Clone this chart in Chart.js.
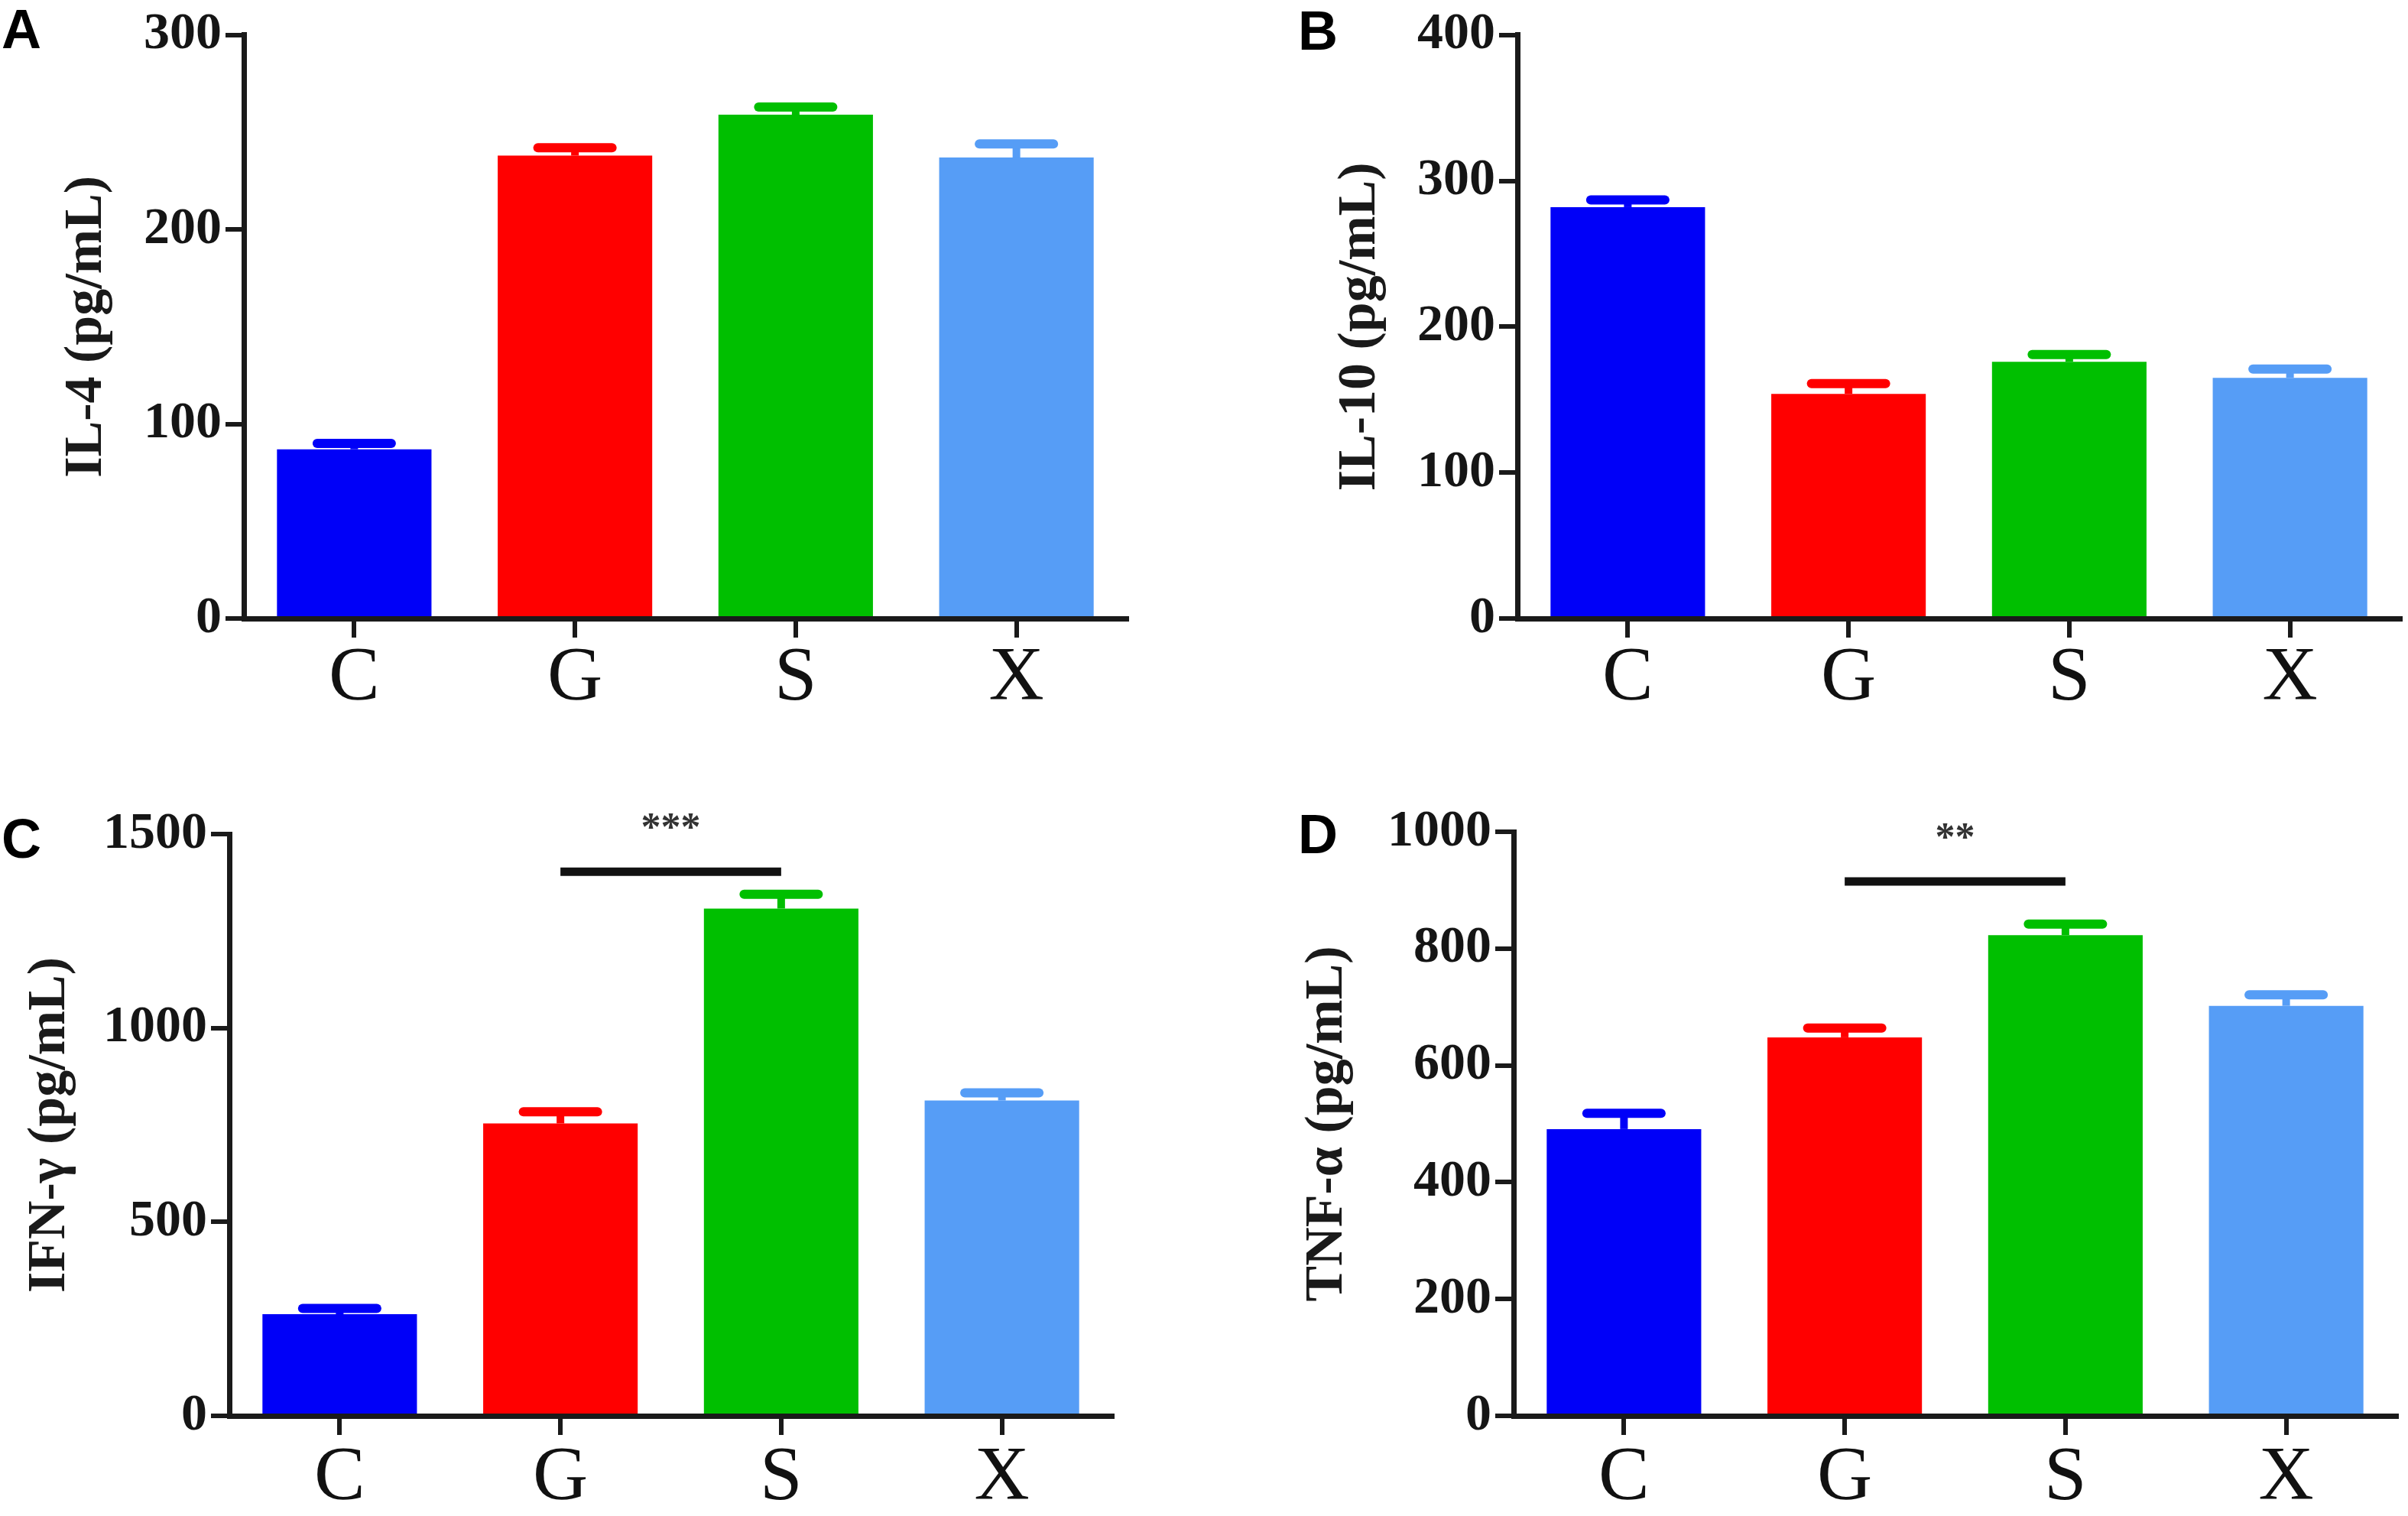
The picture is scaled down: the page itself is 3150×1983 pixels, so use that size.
<!DOCTYPE html>
<html><head><meta charset="utf-8">
<script src="https://cdn.jsdelivr.net/npm/chart.js@4.4.1/dist/chart.umd.min.js"></script>
<style>
html,body{margin:0;padding:0;background:#fff;}
body{width:3150px;height:1983px;position:relative;overflow:hidden;}
canvas{position:absolute;}
.lbl{position:absolute;font-family:"Liberation Sans",Arial,sans-serif;font-weight:bold;font-size:72px;line-height:1;color:#000;}
</style></head><body>
<script>
// ---- data ----
const categories = ['C', 'G', 'S', 'X'];
const barColors = ['#0000F8', '#FF0000', '#00BF00', '#569DF6'];

const il4Mean  = [87, 238, 259, 237];
const il4Err   = [3, 4, 4, 7];
const il10Mean = [282, 154, 176, 165];
const il10Err  = [5, 7, 5, 6];
const ifnMean  = [262, 754, 1308, 813];
const ifnErr   = [15, 30, 37, 20];
const tnfMean  = [491, 648, 823, 702];
const tnfErr   = [27, 16, 19, 19];

const panelLetters = ['A', 'B', 'C', 'D'];
const yTitles = ['IL-4 (pg/mL)', 'IL-10 (pg/mL)', 'IFN-γ (pg/mL)', 'TNF-α (pg/mL)'];
const yMax  = [300, 400, 1500, 1000];
const yStep = [100, 100, 500, 200];

// significance brackets (null = none)
const sigFrom  = [null, null, 'G', 'G'];
const sigTo    = [null, null, 'S', 'S'];
const sigLevel = [null, null, 1403, 915];
const sigText  = ['', '', '***', '**'];
const sigTextLevel = [null, null, 1532, 1000];

const means = [il4Mean, il10Mean, ifnMean, tnfMean];
const errs  = [il4Err, il10Err, ifnErr, tnfErr];

// ---- layout (pixels) ----
const layouts = [
  {x: 0,    y: 0,   w: 1575, h: 991, left: 319, right: 1474, top: 41,  bottom: 809, titleOff: 72,  xPad: -6, lx: 2,    ly: 2},
  {x: 1575, y: 0,   w: 1575, h: 991, left: 410, right: 1565, top: 41,  bottom: 809, titleOff: 163, xPad: -6, lx: 1698, ly: 4},
  {x: 0,    y: 991, w: 1575, h: 992, left: 300, right: 1455, top: 100, bottom: 861, titleOff: 24,  xPad: -3, lx: 2,    ly: 1061},
  {x: 1575, y: 991, w: 1575, h: 992, left: 405, right: 1560, top: 97,  bottom: 861, titleOff: 120, xPad: -3, lx: 1698, ly: 1055}
];

const AXIS = '#1a1a1a';

function makeOverlay(i) {
  return {
    id: 'overlay' + i,
    afterDatasetsDraw(chart) {
      const ctx = chart.ctx;
      const ys = chart.scales.y, xs = chart.scales.x;
      const meta = chart.getDatasetMeta(0);
      meta.data.forEach((bar, k) => {
        const v = means[i][k], e = errs[i][k];
        const yTop = ys.getPixelForValue(v + e);
        const yBase = ys.getPixelForValue(v);
        const cap = bar.width * 0.48;
        ctx.save();
        ctx.strokeStyle = barColors[k];
        ctx.lineWidth = 10;
        ctx.lineCap = 'butt';
        ctx.beginPath(); ctx.moveTo(bar.x, yBase); ctx.lineTo(bar.x, yTop); ctx.stroke();
        ctx.lineWidth = 12;
        ctx.lineCap = 'round';
        ctx.beginPath(); ctx.moveTo(bar.x - cap / 2, yTop); ctx.lineTo(bar.x + cap / 2, yTop); ctx.stroke();
        ctx.restore();
      });
      if (sigFrom[i]) {
        const x1 = xs.getPixelForValue(categories.indexOf(sigFrom[i]));
        const x2 = xs.getPixelForValue(categories.indexOf(sigTo[i]));
        const yl = ys.getPixelForValue(sigLevel[i]);
        ctx.save();
        ctx.strokeStyle = '#111';
        ctx.lineWidth = 11;
        ctx.lineCap = 'butt';
        ctx.beginPath(); ctx.moveTo(x1, yl); ctx.lineTo(x2, yl); ctx.stroke();
        ctx.fillStyle = '#333';
        ctx.font = 'bold 52px "Liberation Serif", "Times New Roman", serif';
        ctx.textAlign = 'center';
        ctx.textBaseline = 'alphabetic';
        ctx.fillText(sigText[i], (x1 + x2) / 2, ys.getPixelForValue(sigTextLevel[i]) + 24);
        ctx.restore();
      }
    }
  };
}

layouts.forEach((L, i) => {
  const c = document.createElement('canvas');
  c.width = L.w; c.height = L.h;
  c.style.left = L.x + 'px'; c.style.top = L.y + 'px';
  c.style.width = L.w + 'px'; c.style.height = L.h + 'px';
  document.body.appendChild(c);

  const lbl = document.createElement('div');
  lbl.className = 'lbl';
  lbl.textContent = panelLetters[i];
  lbl.style.left = L.lx + 'px'; lbl.style.top = L.ly + 'px';
  document.body.appendChild(lbl);

  new Chart(c.getContext('2d'), {
    type: 'bar',
    data: {
      labels: categories,
      datasets: [{
        data: means[i],
        backgroundColor: barColors,
        borderWidth: 0,
        barPercentage: 0.7,
        categoryPercentage: 1.0
      }]
    },
    options: {
      responsive: false,
      animation: false,
      devicePixelRatio: 1,
      layout: {padding: {left: 0, top: L.top, right: L.w - L.right, bottom: 0}},
      plugins: {legend: {display: false}, tooltip: {enabled: false}, title: {display: false}},
      scales: {
        x: {
          type: 'category',
          offset: true,
          grid: {display: true, drawOnChartArea: false, drawTicks: true, tickLength: 25, lineWidth: 6, color: AXIS, offset: false},
          border: {display: true, width: 7, color: AXIS},
          ticks: {
            color: '#111',
            font: {family: '"Liberation Serif", "Times New Roman", serif', size: 100},
            padding: L.xPad,
            maxRotation: 0,
            autoSkip: false
          },
          afterFit(scale) { scale.height = L.h - L.bottom; }
        },
        y: {
          min: 0,
          max: yMax[i],
          grid: {display: true, drawOnChartArea: false, drawTicks: true, tickLength: 24, lineWidth: 6, color: AXIS},
          border: {display: true, width: 7, color: AXIS},
          ticks: {
            stepSize: yStep[i],
            color: '#151515',
            font: {family: '"Liberation Serif", "Times New Roman", serif', size: 68, weight: 'bold'},
            padding: 5,
            callback: (v) => String(v)
          },
          title: {
            display: true,
            text: yTitles[i],
            color: '#1a1a1a',
            font: {family: '"Liberation Serif", "Times New Roman", serif', size: 70, weight: 'bold'},
            padding: {top: L.titleOff, bottom: 0}
          },
          afterFit(scale) { scale.width = L.left; }
        }
      }
    },
    plugins: [makeOverlay(i)]
  });
});
</script>
</body></html>
